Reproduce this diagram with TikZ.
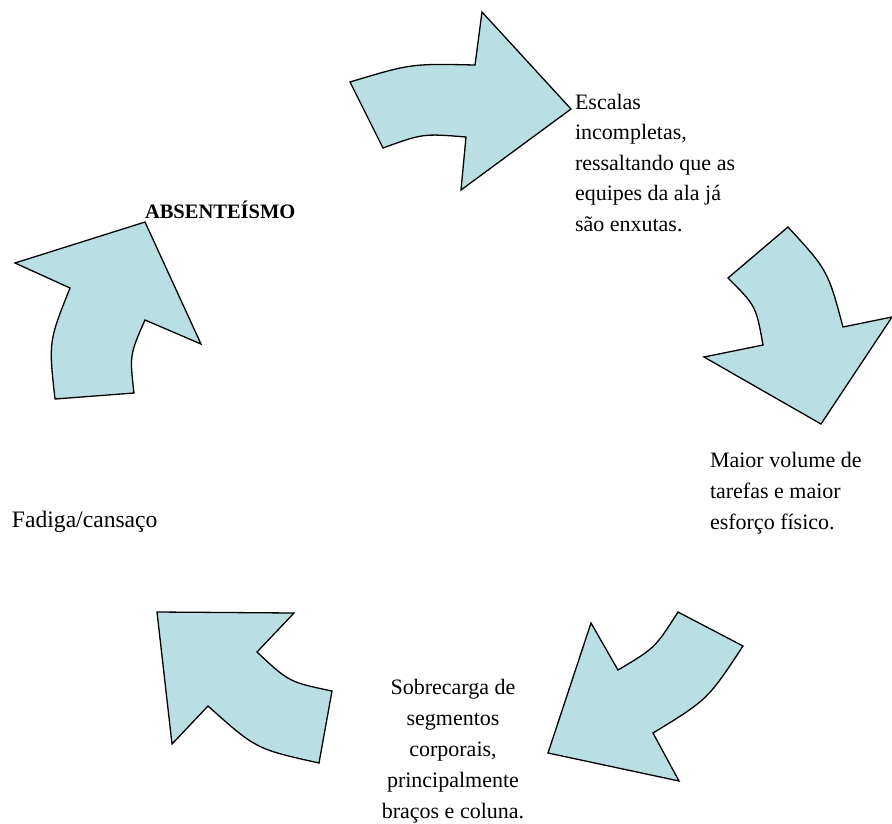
\documentclass[tikz,border=0pt]{standalone}
\usepackage{fontspec}
\setmainfont{Liberation Serif}
\definecolor{arrowfill}{RGB}{186,223,227}
\begin{document}
\begin{tikzpicture}[x=1pt,y=-1pt,
  bigarrow/.style={draw=black,fill=arrowfill,line width=1.3pt,line join=miter},
  lbl/.style={inner sep=0pt,outer sep=0pt,align=left,anchor=base west,
    font=\fontsize{22}{31}\selectfont},
  clbl/.style={lbl,align=center,anchor=base}]
\useasboundingbox (0,0) rectangle (892,823);
% arrow 1 (top)
\draw[bigarrow] (350,82) .. controls (411,63.6) .. (475,65) -- (482,12) -- (571,109)
  -- (461,190) -- (466,137) .. controls (423,133.5) .. (383,148) -- cycle;
% arrow 2 (right)
\draw[bigarrow] (788,227) -- (728,278) .. controls (756,306) .. (763,345) -- (704,357)
  -- (821,424) -- (892,317) -- (843,327) .. controls (827.8,270.3) .. (788,227) -- cycle;
% arrow 3 (bottom right)
\draw[bigarrow] (678,612) -- (743,646) .. controls (707.7,699.6) .. (653,733) -- (679,781)
  -- (548,753) -- (591,623) -- (618,670) .. controls (655,648) .. (678,612) -- cycle;
% arrow 4 (bottom left)
\draw[bigarrow] (157,612) -- (294,613) -- (257,652) .. controls (289,682) .. (332,691)
  -- (319,763) .. controls (256,749) .. (208,706) -- (172,744) -- cycle;
% arrow 5 (left)
\draw[bigarrow] (145,222) -- (201,344) -- (145,320) .. controls (129.6,355) .. (134,393)
  -- (55,399) .. controls (48.6,341.6) .. (70,288) -- (15,263) -- cycle;
% labels (anchored at the baseline of the last line)
\node[lbl,font=\fontsize{22}{30.5}\selectfont] (escalas) at (575,231) {Escalas\\incompletas,\\ressaltando que as\\equipes da ala já\\são enxutas.};
\node[lbl] (maior) at (710,529) {Maior volume de\\tarefas e maior\\esforço físico.};
\node[clbl] (sobre) at (453,818) {Sobrecarga de\\segmentos\\corporais,\\principalmente\\braços e coluna.};
\node[lbl,font=\fontsize{23.6}{28}\selectfont] (fadiga) at (12,527) {Fadiga/cansaço};
\node[lbl,font=\fontsize{20.5}{24}\selectfont\bfseries] (abs) at (145,218) {ABSENTEÍSMO};
\end{tikzpicture}
\end{document}
